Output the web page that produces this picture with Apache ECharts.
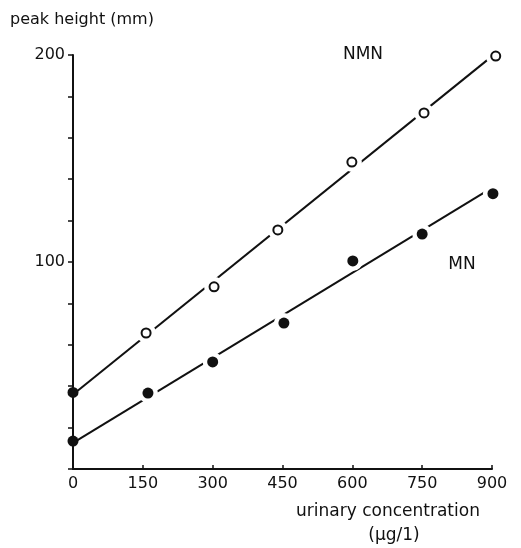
<!DOCTYPE html>
<html>
<head>
<meta charset="utf-8">
<script src="https://cdn.jsdelivr.net/npm/echarts@6/dist/echarts.min.js"></script>
<style>
    html, body { margin: 0; padding: 0; background: #fff; }
    #chart { width: 521px; height: 548px; }
</style>
</head>
<body>
<div id="chart"></div>
<script>
    // urinary concentration (ug/1) and peak height (mm)
    const xTicks = [0, 150, 300, 450, 600, 750, 900]
    const yLabelled = [100, 200]

    const nmnX = [0, 157, 303, 440, 599, 754, 908]
    const nmnY = [37, 65.7, 88, 115.5, 148.3, 172, 199.5]
    const mnX = [0, 161, 300, 453, 601, 750, 902]
    const mnY = [13.5, 36.7, 51.7, 70.5, 100.5, 113.5, 133]

    // fitted lines, end points
    const nmnFitX = [0, 895]
    const nmnFitY = [36, 198.5]
    const mnFitX = [0, 890]
    const mnFitY = [12.6, 134.5]

    const ink = '#111'
    const font = 'DejaVu Sans'

    const pairs = (xs, ys) => xs.map((x, i) => [x, ys[i]])

    const myChart = echarts.init(document.getElementById('chart'))

    // the zero point of NMN is drawn as a filled dot in the figure
    const nmnPts = pairs(nmnX, nmnY).map((p, i) => i === 0
        ? { value: p, itemStyle: { color: ink, borderColor: ink } }
        : { value: p })

    const option = {
        backgroundColor: '#fff',
        animation: false,
        grid: { left: 73, right: 29, top: 55, bottom: 79 },
        xAxis: {
            type: 'value',
            min: 0,
            max: 900,
            interval: 150,
            splitLine: { show: false },
            axisLine: { lineStyle: { color: ink, width: 2 } },
            axisTick: { inside: true, length: 4, lineStyle: { color: ink, width: 1.5 } },
            axisLabel: {
                color: ink, fontFamily: font, fontSize: 16, margin: 7,
                formatter: v => xTicks.includes(v) ? String(v) : ''
            }
        },
        yAxis: {
            type: 'value',
            min: 0,
            max: 200,
            interval: 20,
            splitLine: { show: false },
            axisLine: { lineStyle: { color: ink, width: 2 } },
            axisTick: { length: 5, lineStyle: { color: ink, width: 1.5 } },
            axisLabel: {
                color: ink, fontFamily: font, fontSize: 16, margin: 8,
                formatter: v => yLabelled.includes(v) ? String(v) : ''
            }
        },
        graphic: [
            { type: 'text', left: 10, top: 12, style: { text: 'peak height (mm)', fill: ink, font: '16px "DejaVu Sans"' } },
            { type: 'text', x: 363, y: 55, style: { text: 'NMN', fill: ink, font: '17px "DejaVu Sans"', align: 'center', verticalAlign: 'middle' } },
            { type: 'text', x: 462, y: 265, style: { text: 'MN', fill: ink, font: '17px "DejaVu Sans"', align: 'center', verticalAlign: 'middle' } },
            { type: 'text', x: 388, y: 512, style: { text: 'urinary concentration', fill: ink, font: '17px "DejaVu Sans"', align: 'center', verticalAlign: 'middle' } },
            { type: 'text', x: 394, y: 536, style: { text: '(\u03bcg/1)', fill: ink, font: '17px "DejaVu Sans"', align: 'center', verticalAlign: 'middle' } }
        ],
        series: [
            {
                name: 'NMN fit', type: 'line', z: 2, symbol: 'none', clip: false,
                lineStyle: { color: ink, width: 2 },
                data: pairs(nmnFitX, nmnFitY)
            },
            {
                name: 'MN fit', type: 'line', z: 2, symbol: 'none', clip: false,
                lineStyle: { color: ink, width: 2 },
                data: pairs(mnFitX, mnFitY)
            },
            // white halos, these break the lines round the points like in the figure
            {
                type: 'scatter', z: 3, symbolSize: 20, clip: false, silent: true,
                itemStyle: { color: '#fff', opacity: 1 },
                data: pairs(nmnX, nmnY).slice(1).concat(pairs(mnX, mnY).slice(1))
            },
            {
                name: 'NMN', type: 'scatter', z: 4, symbolSize: 9, clip: false,
                itemStyle: { color: '#fff', borderColor: ink, borderWidth: 2, opacity: 1 },
                data: nmnPts
            },
            {
                name: 'MN', type: 'scatter', z: 4, symbolSize: 11, clip: false,
                itemStyle: { color: ink, opacity: 1 },
                data: pairs(mnX, mnY)
            }
        ]
    }
    myChart.setOption(option)
</script>
</body>
</html>
